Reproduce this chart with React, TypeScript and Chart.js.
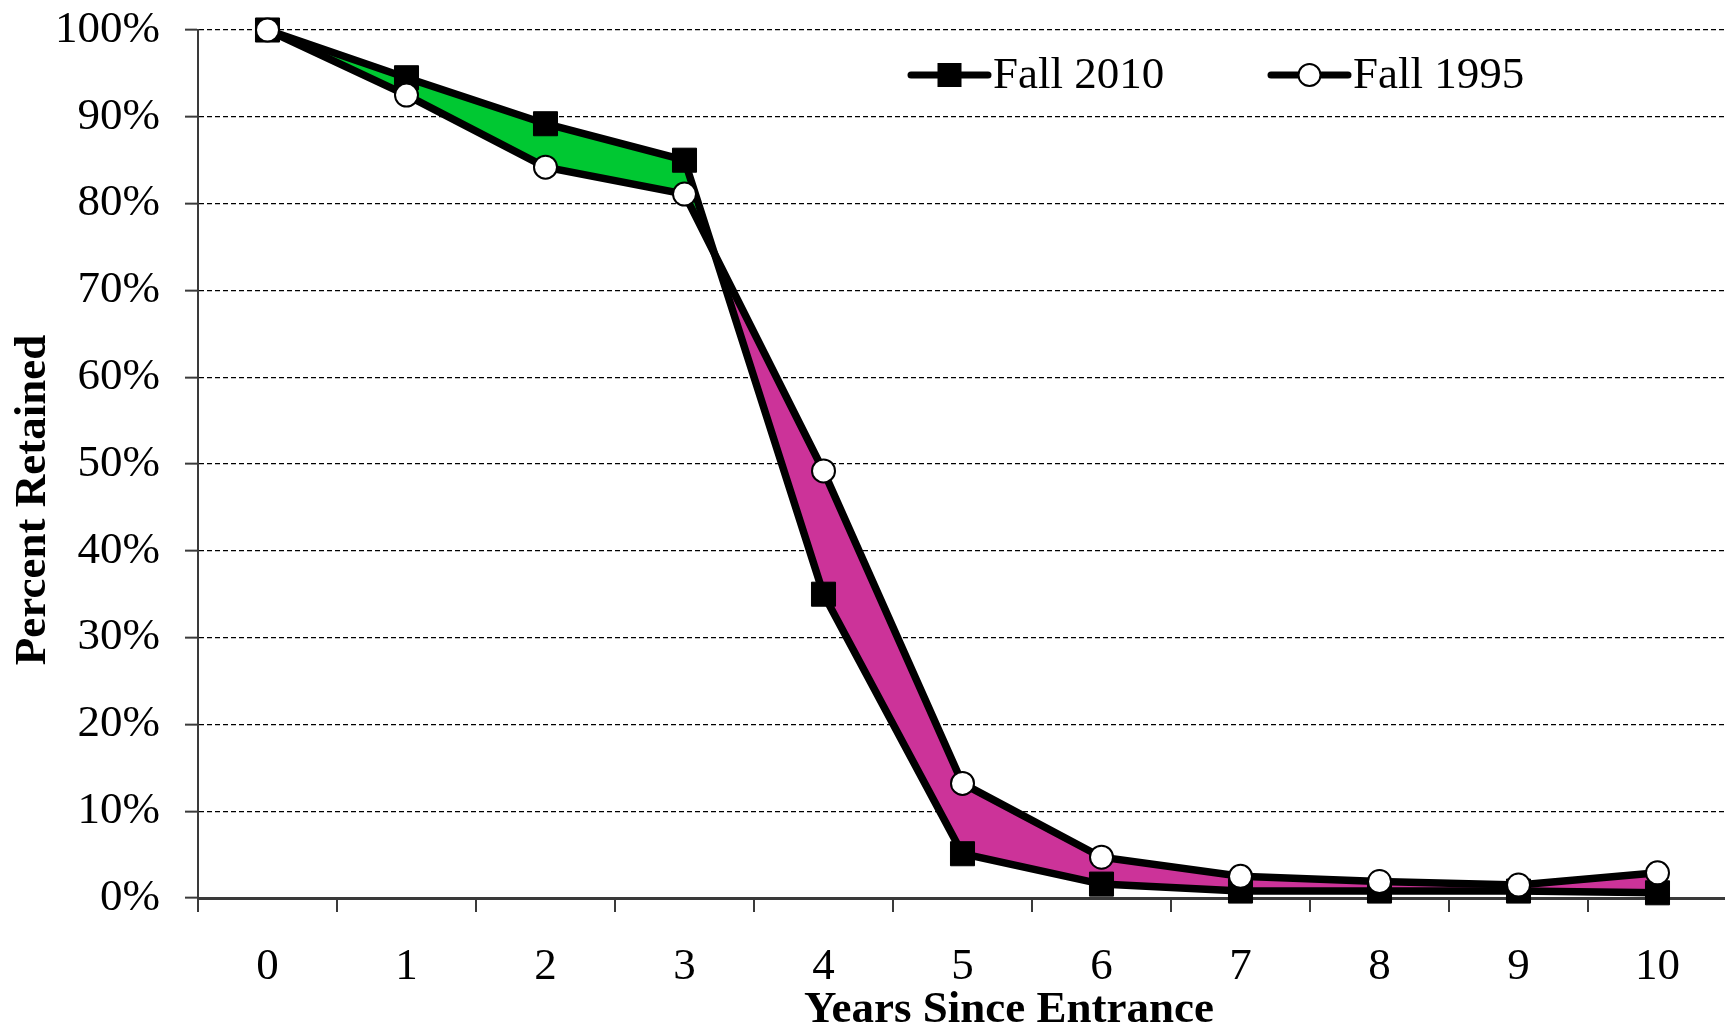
import React, { useEffect, useRef } from 'react';
import { Chart, registerables } from 'chart.js';

Chart.register(...registerables);

const years = ['0', '1', '2', '3', '4', '5', '6', '7', '8', '9', '10'];
const fall2010 = [100, 94.5, 89.2, 85.0, 35.0, 5.1, 1.6, 0.8, 0.8, 0.8, 0.6];
const fall1995 = [100, 92.5, 84.2, 81.1, 49.2, 13.2, 4.7, 2.5, 1.9, 1.5, 2.9];
const seriesLabels = ['Fall 2010', 'Fall 1995'];
const xTitle = 'Years Since Entrance';
const yTitle = 'Percent Retained';

const GREEN = '#00C832';
const MAGENTA = '#CC3399';
const AXIS = '#3a3a3a';
const FONT = '"Liberation Serif", "Times New Roman", serif';

const CANVAS_W = 1745;
const CANVAS_H = 1027;

const overlayPlugin = {
  id: 'overlay',
  afterDraw(chart: any) {
    const ctx = chart.ctx as CanvasRenderingContext2D;
    ctx.save();
    ctx.fillStyle = '#000';
    // y title
    ctx.font = `bold 45px ${FONT}`;
    ctx.textAlign = 'center';
    ctx.textBaseline = 'middle';
    ctx.save();
    ctx.translate(33, 500);
    ctx.rotate(-Math.PI / 2);
    ctx.fillText(yTitle, 0, 0);
    ctx.restore();
    // x title
    ctx.fillText(xTitle, 1009, 1010);

    // legend
    const ly = 75;
    const items = [
      { x1: 911, x2: 988, label: seriesLabels[0], square: true },
      { x1: 1271, x2: 1348, label: seriesLabels[1], square: false },
    ];
    items.forEach((it) => {
      ctx.strokeStyle = '#000';
      ctx.lineWidth = 7;
      ctx.lineCap = 'round';
      ctx.beginPath();
      ctx.moveTo(it.x1, ly);
      ctx.lineTo(it.x2, ly);
      ctx.stroke();
      const cx = (it.x1 + it.x2) / 2;
      if (it.square) {
        ctx.fillStyle = '#000';
        ctx.fillRect(cx - 12, ly - 12, 24, 24);
      } else {
        ctx.beginPath();
        ctx.arc(cx, ly, 11, 0, Math.PI * 2);
        ctx.fillStyle = '#fff';
        ctx.fill();
        ctx.lineWidth = 2;
        ctx.stroke();
      }
      ctx.fillStyle = '#000';
      ctx.font = `45px ${FONT}`;
      ctx.textAlign = 'left';
      ctx.textBaseline = 'middle';
      ctx.fillText(it.label, it.x2 + 5, ly + 1);
    });
    ctx.restore();
  },
};

export default function App() {
  const ref = useRef<HTMLCanvasElement | null>(null);

  useEffect(() => {
    if (!ref.current) return;
    const chart = new Chart(ref.current, {
      type: 'line',
      data: {
        labels: years,
        datasets: [
          {
            label: seriesLabels[0],
            data: fall2010,
            borderColor: '#000',
            borderWidth: 7.5,
            pointStyle: 'rect',
            pointRadius: 17,
            pointBackgroundColor: '#000',
            pointBorderColor: '#000',
            pointBorderWidth: 1,
            tension: 0,
            clip: false,
            fill: { target: 1, above: GREEN, below: MAGENTA },
            order: 2,
          },
          {
            label: seriesLabels[1],
            data: fall1995,
            borderColor: '#000',
            borderWidth: 7.5,
            pointStyle: 'circle',
            pointRadius: 11.5,
            pointBackgroundColor: '#fff',
            pointBorderColor: '#000',
            pointBorderWidth: 2,
            tension: 0,
            clip: false,
            fill: false,
            order: 1,
          },
        ],
      },
      options: {
        responsive: false,
        animation: false,
        layout: { padding: { left: 0, top: 30, right: CANVAS_W - 1733, bottom: 0 } },
        plugins: {
          legend: { display: false },
          tooltip: { enabled: false },
          title: { display: false },
        },
        scales: {
          x: {
            type: 'category',
            offset: true,
            grid: {
              offset: true,
              drawOnChartArea: false,
              drawTicks: true,
              tickLength: 14,
              color: AXIS,
              lineWidth: 2,
            },
            border: { display: true, color: AXIS, width: 3 },
            ticks: {
              color: '#000',
              font: { family: FONT, size: 45 },
              padding: 28,
              maxRotation: 0,
            },
            afterFit: (s: any) => {
              s.height = CANVAS_H - 898;
              s.paddingLeft = 0;
              s.paddingRight = 0;
            },
          },
          y: {
            min: 0,
            max: 100,
            ticks: {
              stepSize: 10,
              color: '#000',
              font: { family: FONT, size: 45 },
              padding: 25,
              callback: (v: any) => `${v}%`,
            },
            grid: {
              color: '#000',
              lineWidth: 1.3,
              tickLength: 13,
              tickBorderDash: [],
              tickColor: AXIS,
              tickWidth: 2,
            },
            border: { display: true, color: AXIS, width: 2, dash: [5, 3] },
            afterFit: (s: any) => {
              s.width = 198;
              s.paddingTop = 0;
              s.paddingBottom = 0;
            },
          },
        },
      },
      plugins: [overlayPlugin],
    });
    return () => chart.destroy();
  }, []);

  return (
    <div
      style={{
        position: 'fixed',
        left: 0,
        top: 0,
        width: 1725,
        height: 1027,
        overflow: 'hidden',
        background: '#fff',
      }}
    >
      <canvas ref={ref} width={CANVAS_W} height={CANVAS_H} style={{ display: 'block' }} />
    </div>
  );
}
